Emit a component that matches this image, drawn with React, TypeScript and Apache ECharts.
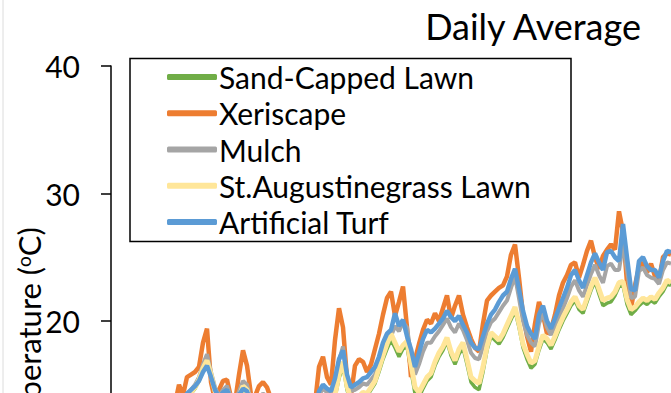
import React, { useEffect, useRef } from "react";
import * as echarts from "echarts";

const seriesNames = ["Sand-Capped Lawn", "Xeriscape", "Mulch", "St.Augustinegrass Lawn", "Artificial Turf"];
const seriesColors = ["#70AD47", "#ED7D31", "#A5A5A5", "#FFE699", "#5B9BD5"];
const yTicks = [0, 10, 20, 30, 40];

const sandCapped = [10.7, 10.3, 11.0, 11.4, 10.6, 10.1, 10.9, 11.6, 11.3, 10.8, 11.7, 11.2, 10.7, 11.4, 11.9, 11.1, 11.7,
  13.4, 13.5, 13.9, 14.3, 14.7, 15.3, 16.1, 16.7, 15.6, 14.3, 13.6, 14.0, 14.3, 13.4, 13.1, 13.8, 14.7, 14.4, 13.2, 12.9, 13.3, 13.7, 13.4, 12.7,
  11.6, 11.0, 10.4, 10.7, 10.0, 9.6, 10.2, 10.9, 11.4, 10.8, 11.9,
  13.2, 13.7, 13.4, 13.1, 14.0, 15.5, 16.5, 14.6, 13.5, 13.7, 13.9, 14.2, 14.1, 14.6, 15.1, 16.0, 17.0, 17.8, 18.5, 17.9, 17.2, 17.8, 18.0, 16.1, 14.3, 14.0, 14.7, 15.3,
  15.6, 16.5, 17.2, 17.7, 18.4, 17.3, 16.6, 17.4, 17.9, 16.6, 15.2, 14.8, 14.6, 16.0, 17.7, 18.8, 18.5, 18.2, 18.7, 19.4,
  20.1, 20.8, 19.5, 17.9, 17.0, 16.3, 16.6, 17.7, 18.6, 18.3, 17.8, 18.5, 19.3, 20.0, 20.6, 21.2, 21.6, 20.9, 20.6, 21.5,
  22.4, 23.1, 22.1, 21.2, 21.4, 21.5, 22.0, 22.7, 22.8, 21.3, 20.5, 20.8, 21.2, 21.5, 21.3, 21.6, 21.4, 21.9, 22.3, 22.9, 22.8];

const xeriscape = [12.5, 11.8, 12.9, 13.4, 12.1, 11.5, 12.7, 13.6, 13.1, 12.4, 13.8, 12.9, 12.2, 13.3, 13.9, 12.8, 13.5,
  15.0, 14.2, 15.6, 15.8, 16.0, 16.4, 18.3, 19.4, 15.2, 13.8, 14.6, 15.3, 15.4, 14.0, 13.6, 15.8, 17.7, 16.5, 14.2, 14.1, 14.9, 15.2, 14.8, 13.9,
  13.2, 12.6, 11.9, 12.3, 11.4, 10.8, 11.7, 12.5, 13.0, 12.2, 13.5,
  16.4, 17.2, 15.6, 15.0, 18.5, 21.0, 19.5, 15.5, 14.2, 16.5, 17.0, 16.8, 16.0, 16.6, 17.8, 19.0, 20.5, 21.8, 22.3, 20.4, 21.5, 22.7, 19.5, 15.6, 17.0, 18.2, 19.3, 20.1,
  19.8, 20.6, 20.0, 21.0, 22.0, 20.2, 21.2, 22.0, 20.5, 19.5, 18.6, 17.9, 17.6, 19.8, 21.6, 22.0, 22.3, 22.6, 22.8, 23.5,
  25.2, 26.0, 23.4, 20.5, 18.8, 17.6, 19.8, 21.5, 20.5, 19.0, 19.3, 20.5, 22.0, 23.0, 23.6, 24.4, 24.6, 23.4, 24.4, 25.5,
  26.3, 25.0, 24.1, 25.1, 25.6, 26.0, 25.6, 28.6, 27.0, 23.0, 21.0, 22.8, 24.2, 24.6, 23.8, 24.5, 23.5, 23.2, 25.0, 25.3, 25.2];

const mulch = [11.4, 11.1, 11.8, 12.2, 11.4, 10.9, 11.7, 12.4, 12.1, 11.6, 12.5, 12.0, 11.5, 12.2, 12.7, 11.9, 12.5,
  13.7, 13.8, 14.3, 14.6, 15.0, 15.6, 16.6, 17.4, 16.0, 14.8, 14.1, 14.6, 14.9, 14.0, 13.7, 14.5, 15.3, 15.0, 13.8, 13.5, 14.0, 14.3, 14.1, 13.4,
  12.4, 11.8, 11.2, 11.5, 10.8, 10.3, 11.0, 11.7, 12.2, 11.6, 12.7,
  14.2, 14.7, 14.4, 14.2, 15.2, 16.9, 18.0, 15.6, 14.5, 14.6, 14.8, 15.1, 15.0, 15.4, 15.8, 16.6, 17.7, 18.4, 18.8, 19.6, 19.2, 19.9, 19.5, 17.3, 15.8, 16.6, 17.6, 18.3,
  18.3, 18.8, 19.2, 19.7, 20.2, 19.5, 19.1, 19.8, 19.3, 18.5, 17.5, 17.1, 17.0, 18.0, 19.2, 19.9, 20.2, 20.7, 21.2, 21.6,
  22.6, 23.5, 21.8, 20.0, 18.9, 18.3, 18.0, 19.8, 20.6, 19.5, 18.9, 19.6, 20.3, 21.0, 21.8, 22.7, 23.2, 22.4, 21.9, 22.8,
  23.7, 24.4, 23.6, 23.0, 24.3, 24.5, 24.0, 24.0, 26.0, 24.0, 21.8, 21.9, 23.9, 24.2, 23.6, 23.4, 23.3, 22.9, 24.0, 24.6, 24.5];

const stAugustine = [10.9, 10.5, 11.2, 11.6, 10.8, 10.3, 11.1, 11.8, 11.5, 11.0, 11.9, 11.4, 10.9, 11.6, 12.1, 11.3, 11.9,
  13.5, 13.6, 14.0, 14.4, 14.8, 15.4, 16.3, 16.9, 15.8, 14.5, 13.8, 14.2, 14.5, 13.6, 13.3, 14.0, 14.9, 14.6, 13.4, 13.1, 13.5, 13.9, 13.6, 12.9,
  11.8, 11.2, 10.6, 10.9, 10.2, 9.8, 10.4, 11.1, 11.6, 11.0, 12.1,
  13.4, 13.9, 13.6, 13.3, 14.2, 15.8, 16.8, 14.9, 13.8, 13.9, 14.1, 14.4, 14.3, 14.8, 15.3, 16.3, 17.3, 18.2, 19.0, 18.3, 17.6, 18.1, 18.4, 16.6, 14.8, 14.4, 15.0, 15.6,
  15.9, 16.8, 17.5, 18.0, 18.7, 17.6, 16.9, 17.8, 18.3, 17.0, 15.6, 15.3, 15.1, 16.4, 18.0, 19.1, 18.8, 18.5, 19.0, 19.7,
  20.4, 21.1, 19.8, 18.2, 17.4, 16.7, 16.9, 18.0, 18.9, 18.6, 18.1, 18.8, 19.6, 20.3, 20.9, 21.5, 21.9, 21.2, 20.9, 21.8,
  22.7, 23.4, 22.5, 21.6, 21.8, 21.9, 22.3, 23.0, 23.1, 21.7, 20.9, 21.1, 21.5, 21.8, 21.6, 21.9, 21.7, 22.2, 22.6, 23.2, 23.0];

const artificialTurf = [11.6, 11.2, 12.0, 12.4, 11.5, 11.0, 11.9, 12.6, 12.3, 11.8, 12.7, 12.2, 11.7, 12.4, 12.9, 12.1, 12.7,
  13.8, 13.9, 14.3, 14.6, 14.9, 15.3, 16.0, 16.5, 15.6, 14.6, 14.0, 14.4, 14.6, 13.8, 13.5, 14.2, 14.7, 14.5, 13.6, 13.4, 13.8, 14.1, 13.9, 13.2,
  12.5, 12.0, 11.4, 11.7, 11.0, 10.5, 11.2, 11.9, 12.4, 11.8, 12.9,
  14.5, 15.0, 14.7, 14.5, 15.5, 17.0, 17.7, 15.8, 14.8, 15.0, 15.2, 15.5, 15.6, 16.0, 16.4, 17.2, 18.3, 19.0, 19.3, 20.6, 19.6, 20.1, 18.8, 17.8, 16.4, 17.5, 18.6, 19.3,
  19.1, 19.4, 19.8, 20.2, 20.8, 20.3, 20.0, 20.4, 19.7, 19.1, 18.3, 17.9, 17.8, 18.8, 19.8, 20.5, 20.9, 21.5, 22.0, 22.3,
  23.3, 24.1, 22.5, 20.8, 19.6, 19.0, 18.6, 20.5, 21.2, 20.0, 19.4, 20.2, 21.0, 21.8, 22.6, 23.6, 24.0, 23.2, 22.6, 23.6,
  24.6, 25.3, 24.6, 24.0, 25.4, 25.5, 25.0, 24.7, 27.6, 25.0, 22.5, 22.4, 24.7, 25.0, 24.3, 24.0, 24.0, 23.4, 24.7, 25.5, 25.4];

const days = xeriscape.map((_, i) => String(i + 1));
const allSeries = [sandCapped, xeriscape, mulch, stAugustine, artificialTurf];
const lineWidths = [3.5, 4.5, 4, 5, 4.5];
const yAxisTitle = "Temperature ({s|o}C)";

const CHART_H = 600;

export default function App() {
  const ref = useRef<HTMLDivElement>(null);
  useEffect(() => {
    if (!ref.current) return;
    const chart = echarts.init(ref.current, null, { renderer: "svg" });
    const font = "Lato, 'Open Sans', sans-serif";
    chart.setOption({
      animation: false,
      backgroundColor: "#ffffff",
      title: {
        text: "Daily Average",
        right: 28,
        top: 8,
        padding: 0,
        textStyle: { fontFamily: font, fontSize: 36, fontWeight: "normal", color: "#000" },
      },
      legend: {
        orient: "vertical",
        left: 167,
        top: 59,
        padding: 0,
        itemGap: 0,
        itemWidth: 50,
        itemHeight: 6,
        icon: "roundRect",
        data: seriesNames,
        textStyle: { fontFamily: font, fontSize: 30, color: "#000", lineHeight: 36.2, padding: [0, 0, 0, -3] },
      },
      graphic: [
        { type: "rect", shape: { x: 130, y: 58.5, width: 441, height: 183 }, style: { fill: "none", stroke: "#000", lineWidth: 1.5 }, z: 10 },
        { type: "line", shape: { x1: 3, y1: 0, x2: 3, y2: CHART_H }, style: { stroke: "#dcdcdc", lineWidth: 1 } },
        {
          type: "text",
          x: 29,
          y: 341,
          rotation: Math.PI / 2,
          style: {
            text: yAxisTitle,
            fontFamily: font,
            fontSize: 31,
            fill: "#000",
            align: "center",
            verticalAlign: "middle",
            rich: { s: { fontFamily: font, fontSize: 19, fill: "#000", verticalAlign: "top", lineHeight: 22 } },
          },
        },
      ],
      grid: { left: 111, right: 0, top: 66, bottom: CHART_H - 576, containLabel: false },
      xAxis: {
        type: "category",
        data: days,
        boundaryGap: false,
        show: false,
      },
      yAxis: {
        type: "value",
        min: yTicks[0],
        max: yTicks[yTicks.length - 1],
        interval: 10,
        axisLine: { show: true, lineStyle: { color: "#000", width: 1.5 } },
        axisTick: { show: true, inside: false, length: 10, lineStyle: { color: "#000", width: 1.5 } },
        axisLabel: { margin: 31, fontFamily: font, fontSize: 30, color: "#000" },
        splitLine: { show: false },
      },
      series: allSeries.map((d, k) => ({
        name: seriesNames[k],
        type: "line",
        data: d,
        showSymbol: false,
        symbol: "none",
        color: seriesColors[k],
        lineStyle: { color: seriesColors[k], width: lineWidths[k] },
        itemStyle: { color: seriesColors[k] },
      })),
    });
    return () => chart.dispose();
  }, []);
  return (
    <div style={{ position: "fixed", left: 0, top: 0, width: 671, height: 393, overflow: "hidden", background: "#fff" }}>
      <div ref={ref} style={{ width: 671, height: CHART_H }} />
    </div>
  );
}
